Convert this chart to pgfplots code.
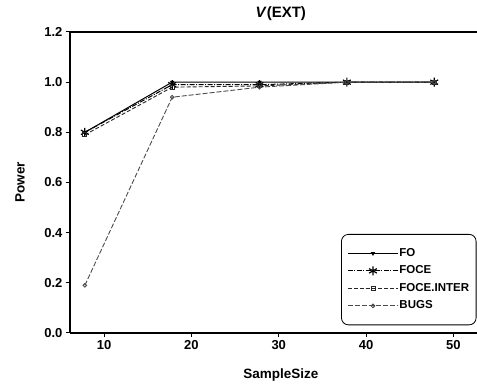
\documentclass[border=0pt]{standalone}
\usepackage{pgfplots}
\pgfplotsset{compat=1.18}
\usepackage{fontspec}
\setmainfont{Liberation Sans}
\begin{document}
\begin{tikzpicture}
\begin{axis}[
  name=ax,
  at={(0,0)}, anchor=south west,
  scale only axis, width=407pt, height=301pt,
  xmin=6.1, xmax=52.7, ymin=0, ymax=1.2,
  axis x line*=bottom, axis y line*=left,
  axis line style={line width=2.4pt, black},
  xtick={10,20,30,40,50},
  ytick={0,0.2,0.4,0.6,0.8,1.0,1.2},
  tick align=outside, major tick length=4pt,
  tick style={line width=1pt, black},
  /pgf/number format/assume math mode=true,
  yticklabel style={/pgf/number format/.cd, fixed, fixed zerofill, precision=1},
  ticklabel style={font=\bfseries\fontsize{13}{15}\selectfont},
  title={\textbf{\textit{V}(EXT)}},
  title style={at={(axis description cs:0.518,1.028)}, anchor=base, inner sep=0pt,
    font=\fontsize{15}{17}\selectfont},
  xlabel={SampleSize},
  xlabel style={at={(axis description cs:0.518,-0.15)}, anchor=base, inner sep=0pt,
    font=\bfseries\fontsize{13.5}{15}\selectfont},
  ylabel={Power},
  ylabel style={at={(axis description cs:-0.123,0.5)}, anchor=center, inner sep=0pt,
    font=\bfseries\fontsize{13.5}{15}\selectfont},
  legend image code/.code={\draw[mark repeat=2,mark phase=2,#1] plot coordinates {(0pt,0pt) (25pt,0pt) (50pt,0pt)};},
  legend cell align=left,
  legend style={at={(axis description cs:0.666,0.329)}, anchor=north west,
    draw=black, line width=0.8pt, rounded corners=7pt,
    inner xsep=6pt, inner ysep=14pt,
    font=\bfseries\fontsize{11.5}{13}\selectfont,
    nodes={inner xsep=1pt, inner ysep=0pt, text height=8pt, text depth=2pt},
    row sep=7.5pt},
]
\addplot[black, line width=1pt, mark=triangle*, mark size=1.6pt,
  mark options={solid, rotate=180}]
  coordinates {(7.8,0.80) (17.8,1.00) (27.8,1.00) (37.8,1.00) (47.8,1.00)};
\addlegendentry{FO}
\addplot[black, line width=1pt, dash pattern=on 5pt off 1.5pt on 1pt off 1.5pt,
  mark=asterisk, mark size=4.5pt, mark options={solid, line width=1.2pt}]
  coordinates {(7.8,0.80) (17.8,0.99) (27.8,0.99) (37.8,1.00) (47.8,1.00)};
\addlegendentry{FOCE}
\addplot[black!85, line width=0.9pt, dash pattern=on 4pt off 2pt,
  mark=square, mark size=2pt, mark options={solid, line width=0.9pt}]
  coordinates {(7.8,0.79) (17.8,0.98) (27.8,0.985) (37.8,1.00) (47.8,1.00)};
\addlegendentry{FOCE.INTER}
\addplot[black!70, line width=0.9pt, dash pattern=on 5pt off 2pt,
  mark=o, mark size=1.8pt, mark options={solid, line width=0.9pt}]
  coordinates {(7.8,0.19) (17.8,0.94) (27.8,0.98) (37.8,1.00) (47.8,1.00)};
\addlegendentry{BUGS}
\end{axis}
\draw[line width=2.4pt, black] (ax.north west) -- (ax.north east);
\pgfresetboundingbox
\useasboundingbox (-70pt,-54pt) rectangle (407pt,333pt);
\end{tikzpicture}
\end{document}
